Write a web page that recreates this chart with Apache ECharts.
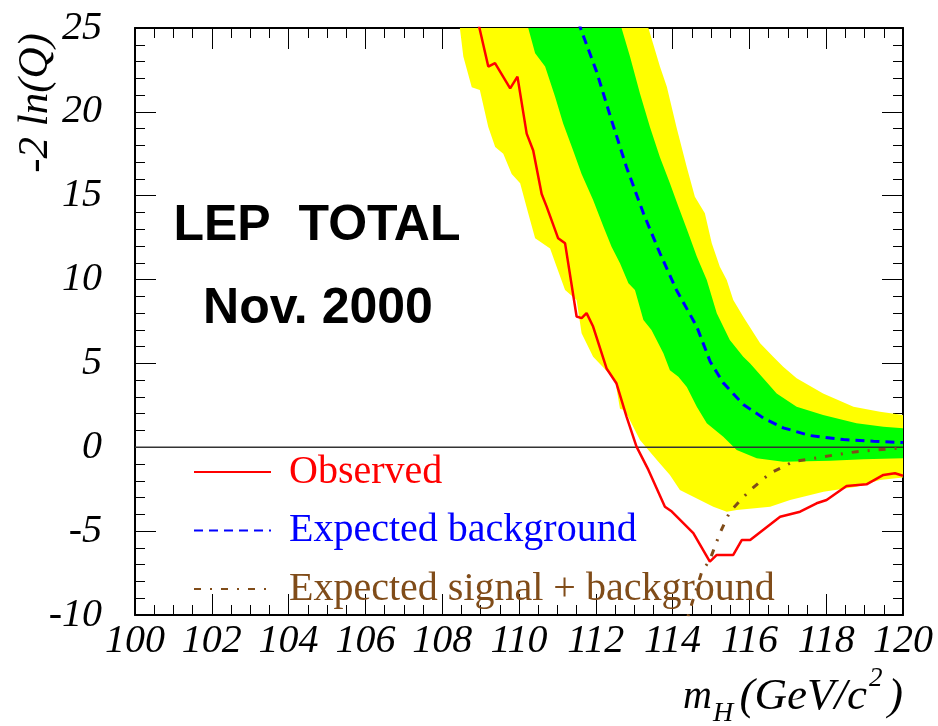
<!DOCTYPE html>
<html>
<head>
<meta charset="utf-8">
<script src="https://cdn.jsdelivr.net/npm/echarts@6/dist/echarts.min.js"></script>
<style>
html,body{margin:0;padding:0;background:#fff;}
#chart{width:938px;height:726px;}
</style>
</head>
<body>
<div id="chart"></div>
<script>
// ---- data ----
const xTicks = [100, 102, 104, 106, 108, 110, 112, 114, 116, 118, 120];
const yTicks = [-10, -5, 0, 5, 10, 15, 20, 25];

const observed = [
  [108.90, 25.6], [108.97, 25.0], [109.20, 22.7], [109.375, 22.9], [109.77, 21.4], [109.96, 22.1],
  [110.20, 18.7], [110.37, 17.7], [110.59, 15.1], [110.72, 14.35], [111.02, 12.46],
  [111.20, 12.16], [111.50, 7.8], [111.63, 7.7], [111.76, 8.0], [111.93, 7.2],
  [112.28, 4.7], [112.54, 3.8], [112.80, 1.83], [113.06, 0.04], [113.37, -1.35],
  [113.80, -3.54], [113.98, -3.83], [114.54, -5.12], [114.97, -6.82], [115.15, -6.42],
  [115.58, -6.42], [115.80, -5.53], [116.02, -5.53], [116.80, -4.14], [117.32, -3.84],
  [117.75, -3.34], [118.01, -3.14], [118.53, -2.31], [119.05, -2.21], [119.49, -1.65],
  [119.79, -1.55], [120.00, -1.70]
];

const expectedBkg = [
  [111.55, 25.4], [111.60, 25.0], [112.02, 22.4], [112.41, 19.5], [112.80, 16.7], [113.24, 13.95],
  [113.67, 11.57], [114.10, 9.38], [114.63, 7.19], [114.98, 5.1], [115.32, 3.84],
  [115.84, 2.55], [116.36, 1.75], [116.88, 1.16], [117.58, 0.70], [118.45, 0.46],
  [119.23, 0.36], [120.00, 0.28]
];

const expectedSigBkg = [
  [114.30, -11.0], [114.41, -10.0], [114.76, -7.42], [114.97, -6.72], [115.23, -5.13],
  [115.49, -3.84], [116.02, -2.55], [116.54, -1.55], [117.14, -0.86], [117.93, -0.56],
  [118.79, -0.26], [120.00, -0.03]
];

const yellowLower = [
  [108.40, 25.6], [108.46, 25.0], [108.55, 23.3], [108.77, 21.46], [108.98, 21.3], [109.20, 19.1],
  [109.38, 17.9], [109.59, 17.5], [109.81, 16.3], [110.03, 15.74], [110.24, 13.95],
  [110.42, 12.46], [110.81, 11.86], [110.98, 10.77], [111.20, 9.38], [111.50, 8.78],
  [111.63, 6.8], [111.93, 5.4], [112.50, 4.03], [112.63, 2.3], [112.76, 2.2],
  [113.15, 0.44], [113.59, -0.76], [113.93, -1.65], [114.19, -2.55], [114.54, -2.95],
  [115.06, -3.54], [115.41, -3.84], [115.67, -3.74], [116.54, -3.54], [117.06, -3.14],
  [117.93, -2.65], [118.79, -2.35], [119.40, -1.95], [120.00, -1.80]
];
const yellowUpper = [
  [113.30, 25.6], [113.37, 25.0], [113.67, 22.7], [113.85, 21.5], [114.10, 19.1], [114.37, 16.7],
  [114.58, 14.94], [114.84, 13.95], [115.02, 12.16], [115.23, 10.77], [115.41, 9.97],
  [115.58, 8.78], [115.84, 7.79], [116.28, 6.2], [116.62, 5.4], [116.88, 4.8],
  [117.23, 4.11], [117.92, 3.21], [118.71, 2.42], [119.40, 2.12], [120.00, 1.92]
];
const greenLower = [
  [110.18, 25.6], [110.24, 25.0], [110.42, 23.5], [110.68, 22.7], [110.94, 20.9], [111.15, 19.3],
  [111.41, 17.7], [111.63, 16.3], [111.93, 14.75], [112.20, 13.15], [112.41, 11.96],
  [112.63, 10.97], [112.85, 9.78], [113.02, 9.38], [113.24, 7.59], [113.45, 7.0],
  [113.76, 5.6], [113.93, 4.6], [114.15, 4.2], [114.37, 3.6], [114.63, 2.42],
  [114.89, 1.43], [115.32, 0.63], [115.67, -0.16], [116.19, -0.66], [116.88, -0.86],
  [118.10, -0.80], [118.97, -0.72], [120.00, -0.66]
];
const greenUpper = [
  [112.60, 25.6], [112.67, 25.0], [112.89, 23.3], [113.15, 21.1], [113.41, 19.1], [113.67, 17.3],
  [113.93, 15.74], [114.15, 14.35], [114.41, 12.76], [114.63, 11.37], [114.89, 9.97],
  [115.15, 7.99], [115.49, 6.4], [115.84, 5.4], [116.02, 5.0], [116.36, 4.11],
  [116.71, 3.21], [117.23, 2.42], [117.92, 1.92], [118.79, 1.43], [119.49, 1.23],
  [120.00, 1.13]
];
const zeroLine = [[100, 0], [120, 0]];

const seriesNames = ['Observed', 'Expected background', 'Expected signal + background'];
const seriesColors = ['#ff0000', '#0000ff', '#804c19'];

// ---- chart ----
const chart = echarts.init(document.getElementById('chart'), null, {renderer: 'canvas'});
const serif = "'Liberation Serif', 'Times New Roman', serif";
const sans = "'Liberation Sans', Arial, sans-serif";

function band(name, lower, upper, color, z) {
  return {
    type: 'custom', name: name, z: z, silent: true, clip: true,
    xAxisIndex: 0, yAxisIndex: 0,
    data: [[110, 0]],
    renderItem: function (params, api) {
      const pts = lower.map(p => api.coord(p))
        .concat(upper.slice().reverse().map(p => api.coord(p)));
      return {type: 'polygon', shape: {points: pts}, style: {fill: color}};
    }
  };
}

const tickStyle = {color: '#000', width: 1};
function xAx(pos, showLabel) {
  return {
    type: 'value', position: pos, min: 100, max: 120, interval: 2,
    axisLine: {show: true, onZero: false, lineStyle: {color: '#000', width: 2}},
    axisTick: {show: true, inside: true, length: 21, lineStyle: tickStyle},
    minorTick: {show: true, splitNumber: 4, length: 10, lineStyle: tickStyle},
    splitLine: {show: false}, minorSplitLine: {show: false},
    axisLabel: {show: showLabel, margin: 6, fontFamily: serif, fontStyle: 'italic',
      fontSize: 40, color: '#000'}
  };
}
function yAx(pos, showLabel) {
  return {
    type: 'value', position: pos, min: -10, max: 25, interval: 5,
    axisLine: {show: true, onZero: false, lineStyle: {color: '#000', width: 2}},
    axisTick: {show: true, inside: true, length: 21, lineStyle: tickStyle},
    minorTick: {show: true, splitNumber: 5, length: 10, lineStyle: tickStyle},
    splitLine: {show: false}, minorSplitLine: {show: false},
    axisLabel: {show: showLabel, margin: 33, fontFamily: serif, fontStyle: 'italic',
      fontSize: 40, color: '#000'}
  };
}

function lineSeries(i, data, lineType, width) {
  return {
    type: 'line', name: seriesNames[i], data: data, symbol: 'none', showSymbol: false,
    clip: true, z: 10 + i, smooth: false, silent: true,
    lineStyle: {color: seriesColors[i], width: width, type: lineType},
    itemStyle: {color: seriesColors[i]}
  };
}

const option = {
  animation: false,
  backgroundColor: '#fff',
  grid: {left: 135, right: 35, top: 28, bottom: 111, containLabel: false},
  xAxis: [xAx('bottom', true), xAx('top', false)],
  yAxis: [yAx('left', true), yAx('right', false)],
  legend: {
    orient: 'vertical', left: 188, top: 447,
    itemWidth: 77, itemHeight: 14, itemGap: 18.5,
    itemStyle: {opacity: 0},
    data: seriesNames.map((n, i) => ({name: n, textStyle: {color: seriesColors[i]}})),
    textStyle: {fontFamily: serif, fontSize: 40, lineHeight: 40, padding: [0, 0, 0, 13]},
    selectedMode: false
  },
  graphic: [
    {type: 'text', x: 317, y: 226, z: 100,
      style: {text: 'LEP  TOTAL', font: "bold 50px " + sans, fill: '#000',
        textAlign: 'center', textVerticalAlign: 'middle'}},
    {type: 'text', x: 318, y: 309, z: 100,
      style: {text: 'Nov. 2000', font: "bold 50px " + sans, fill: '#000',
        textAlign: 'center', textVerticalAlign: 'middle'}},
    {type: 'text', x: 36, y: 103, rotation: Math.PI / 2, z: 100,
      style: {text: '-2 ln(Q)', font: "italic 43px " + serif, fill: '#000',
        textAlign: 'center', textVerticalAlign: 'middle'}},
    {type: 'text', x: 683, y: 697, z: 100,
      style: {text: 'm', font: "italic 40px " + serif, fill: '#000',
        textAlign: 'left', textVerticalAlign: 'middle'}},
    {type: 'text', x: 713, y: 714, z: 100,
      style: {text: 'H', font: "italic 28px " + serif, fill: '#000',
        textAlign: 'left', textVerticalAlign: 'middle'}},
    {type: 'text', x: 867, y: 697, z: 100,
      style: {text: '(GeV/c', font: "italic 45px " + serif, fill: '#000',
        textAlign: 'right', textVerticalAlign: 'middle'}},
    {type: 'text', x: 869, y: 679, z: 100,
      style: {text: '2', font: "italic 27px " + serif, fill: '#000',
        textAlign: 'left', textVerticalAlign: 'middle'}},
    {type: 'text', x: 888, y: 697, z: 100,
      style: {text: ')', font: "italic 45px " + serif, fill: '#000',
        textAlign: 'left', textVerticalAlign: 'middle'}}
  ],
  series: [
    band('yellow', yellowLower, yellowUpper, '#ffff00', 1),
    band('green', greenLower, greenUpper, '#00ff00', 2),
    {type: 'line', name: 'zero', data: zeroLine, symbol: 'none', silent: true, z: 5,
      lineStyle: {color: '#333', width: 1.5}},
    lineSeries(2, expectedSigBkg, [7, 9, 2, 9], 3),
    lineSeries(1, expectedBkg, [9, 6], 3),
    lineSeries(0, observed, 'solid', 2.5)
  ]
};
chart.setOption(option);
</script>
</body>
</html>
